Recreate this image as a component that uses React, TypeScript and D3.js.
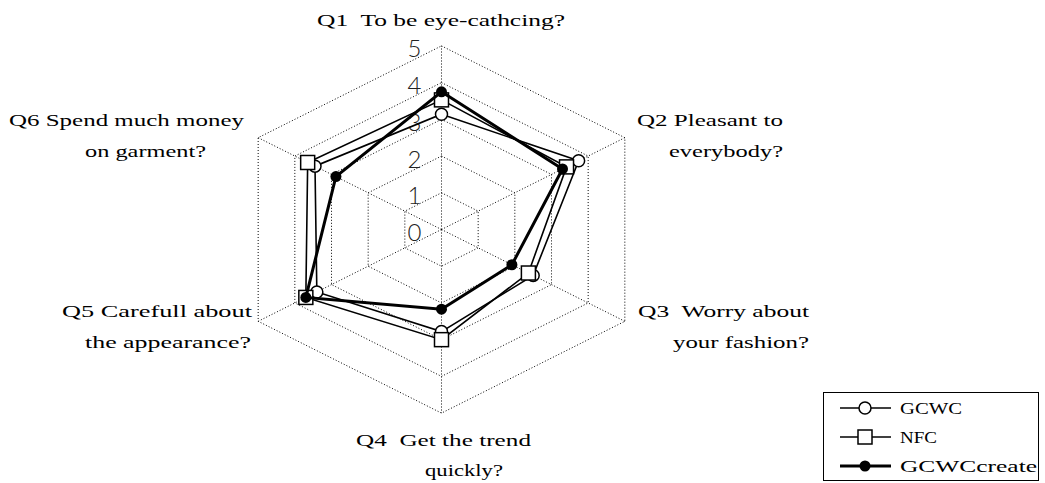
import React from "react";
import * as d3 from "d3";

// Survey questions (radar axes), clockwise from the top
const questions = ["Q1", "Q2", "Q3", "Q4", "Q5", "Q6"];

// Mean scores per group, in the order of `questions`
const gcwcValues = [3.14, 3.74, 2.5, 2.78, 3.4, 3.45];
const nfcValues = [3.53, 3.41, 2.37, 3.0, 3.7, 3.65];
const gcwcCreateValues = [3.75, 3.3, 1.92, 2.17, 3.7, 2.88];

const seriesNames = ["GCWC", "NFC", "GCWCcreate"];
const scaleTicks = [0, 1, 2, 3, 4, 5];

// Axis label lines: [text, x, y, anchor, fitted width]
type LabelLine = [string, number, number, "start" | "middle" | "end", number];
const axisLabelLines: LabelLine[] = [
  ["Q1  To be eye-cathcing?", 317, 26, "start", 248],
  ["Q2 Pleasant to", 637, 126, "start", 146],
  ["everybody?", 669, 157, "start", 114],
  ["Q3  Worry about", 638, 317, "start", 171],
  ["your fashion?", 673, 348, "start", 136],
  ["Q4  Get the trend", 356, 446, "start", 175],
  ["quickly?", 425, 476, "start", 78],
  ["Q5 Carefull about", 62, 317, "start", 190],
  ["the appearance?", 85, 348, "start", 166],
  ["Q6 Spend much money", 9, 126, "start", 235],
  ["on garment?", 85, 157, "start", 121],
];

const W = 1045;
const H = 483;
const cx = 441.5;
const cy = 229.5;
// The plot is wider than it is tall: horizontal stretch applied to the hexagon
const xStretch = 1.153;

const r = d3.scaleLinear().domain([0, 5]).range([0, 183.6]);
const angle = d3
  .scalePoint<string>()
  .domain(questions)
  .range([0, (2 * Math.PI * (questions.length - 1)) / questions.length]);

function pt(q: string, v: number): [number, number] {
  const a = angle(q) as number;
  return [cx + r(v) * Math.sin(a) * xStretch, cy - r(v) * Math.cos(a)];
}

const closedLine = d3
  .line<[number, number]>()
  .x((d) => d[0])
  .y((d) => d[1])
  .curve(d3.curveLinearClosed);

const serif = "'Liberation Serif', 'Times New Roman', serif";

function Marker({ kind, x, y }: { kind: string; x: number; y: number }) {
  if (kind === "GCWC")
    return <circle cx={x} cy={y} r={6} fill="#fff" stroke="#000" strokeWidth={1.5} />;
  if (kind === "NFC")
    return (
      <rect x={x - 7} y={y - 7} width={14} height={14} fill="#fff" stroke="#000" strokeWidth={1.5} />
    );
  return <circle cx={x} cy={y} r={5.5} fill="#000" />;
}

export default function App() {
  const series = [
    { name: seriesNames[0], values: gcwcValues, width: 1.6 },
    { name: seriesNames[1], values: nfcValues, width: 1.6 },
    { name: seriesNames[2], values: gcwcCreateValues, width: 3 },
  ];

  const gridLevels = scaleTicks.filter((t) => t > 0);

  return (
    <svg
      width={W}
      height={H}
      style={{ position: "absolute", left: 0, top: 0, background: "#fff" }}
    >
      {/* dotted grid rings */}
      {gridLevels.map((lv) => (
        <path
          key={"ring" + lv}
          d={closedLine(questions.map((q) => pt(q, lv))) || ""}
          fill="none"
          stroke="#000"
          strokeWidth={1}
          strokeDasharray="1,2"
        />
      ))}
      {/* spokes */}
      {questions.map((q) => {
        const [x, y] = pt(q, 5);
        return (
          <line
            key={"spoke" + q}
            x1={cx}
            y1={cy}
            x2={x}
            y2={y}
            stroke="#000"
            strokeWidth={1}
            strokeDasharray="1,2"
          />
        );
      })}
      {/* scale values along the first axis */}
      {scaleTicks.map((t) => (
        <text
          key={"tick" + t}
          x={cx - 27}
          y={cy - r(t) + 11.5}
          textAnchor="middle"
          fontFamily="Lato, 'DejaVu Sans', sans-serif"
          fontWeight={300}
          fontSize={24}
          fill="#222"
        >
          {t}
        </text>
      ))}
      {/* axis labels */}
      {axisLabelLines.map(([t, x, y, anchor, len], i) => (
        <text
          key={"lab" + i}
          x={x}
          y={y}
          textAnchor={anchor}
          fontFamily={serif}
          fontSize={17}
          textLength={len}
          lengthAdjust="spacingAndGlyphs"
          fill="#000"
          style={{ whiteSpace: "pre" }}
        >
          {t}
        </text>
      ))}
      {/* data series */}
      {series.map((s) => {
        const pts = questions.map((q, i) => pt(q, s.values[i]));
        return (
          <g key={s.name}>
            <path
              d={closedLine(pts) || ""}
              fill="none"
              stroke="#000"
              strokeWidth={s.width}
              strokeLinejoin="miter"
            />
            {pts.map(([x, y], i) => (
              <Marker key={i} kind={s.name} x={x} y={y} />
            ))}
          </g>
        );
      })}
      {/* legend */}
      <g>
        <rect x={823.5} y={392.5} width={215} height={88} fill="#fff" stroke="#000" strokeWidth={1} />
        {series.map((s, i) => {
          const y = 408 + i * 29;
          return (
            <g key={"lg" + s.name}>
              <line x1={840} x2={891} y1={y} y2={y} stroke="#000" strokeWidth={s.width} />
              <Marker kind={s.name} x={865} y={y} />
              <text
                x={900}
                y={y + 6}
                fontFamily={serif}
                fontSize={17}
                textLength={[62, 37, 137][i]}
                lengthAdjust="spacingAndGlyphs"
              >
                {s.name}
              </text>
            </g>
          );
        })}
      </g>
    </svg>
  );
}
